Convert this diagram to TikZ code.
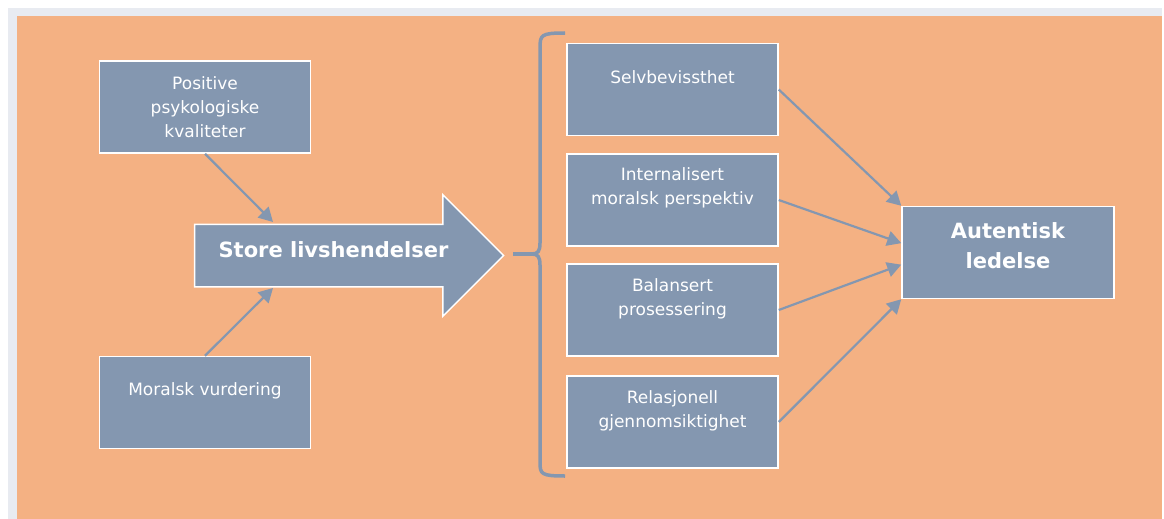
\documentclass[tikz,border=0pt]{standalone}
\usepackage{fontspec}
\setmainfont{DejaVu Sans}
\usepackage{tikz}
\usetikzlibrary{shapes.arrows,arrows.meta,calc}
\definecolor{bgorange}{HTML}{F4B183}
\definecolor{boxgray}{HTML}{8497B0}
\definecolor{frameband}{HTML}{E8EBF1}

\begin{document}
\begin{tikzpicture}[
  x=1pt, y=-1pt,
  box/.style     ={rectangle, draw=white, line width=1.5pt, fill=boxgray, minimum width=211pt, minimum height=92pt, inner sep=0pt},
  txt/.style     ={text=white, font=\fontsize{17}{24}\selectfont, align=center, inner sep=0pt},
  boldtxt/.style ={text=white, font=\fontsize{21}{30}\selectfont\bfseries, align=center, inner sep=0pt},
  bigarrow/.style={single arrow, draw=white, line width=1.5pt, fill=boxgray, inner xsep=0pt, inner ysep=30.5pt,
                   single arrow head extend=29.5pt, minimum height=309pt},
  link/.style    ={-{Triangle[length=14pt,width=15pt]}, draw=boxgray, line width=2.2pt},
  bracket/.style ={draw=boxgray, line width=3.5pt},
]
\useasboundingbox (0,0) rectangle (1164,519);
% frame
\fill[white] (0,0) rectangle (1164,519);
\fill[frameband] (8,8) rectangle (1162,519);
\fill[bgorange] (17,16) rectangle (1162,519);
% left side
\node[box] (pos) at (205,107)   {};
\node[box] (mor) at (205,402.5) {};
\node[txt] (pos-t) at (205,107) {Positive\\psykologiske\\kvaliteter};
\node[txt] (mor-t) at (205,391) {Moralsk vurdering};
% big arrow
\node[bigarrow] (life) at (333.5,255.5) {};
\node[boldtxt] (life-t) at (333.5,250) {Store livshendelser};
\coordinate (pos-in) at (273,222);
\coordinate (mor-in) at (273,288);
\draw[link] (pos.south) -- (pos-in);
\draw[link] (mor.north) -- (mor-in);
% bracket
\draw[bracket] (565,33) .. controls (541,33) and (540,35) .. (540,48) -- (540,243)
  .. controls (540,251) and (538,254) .. (532,254)
  .. controls (538,254) and (540,257) .. (540,265) -- (540,462)
  .. controls (540,474) and (541,476) .. (565,476);
\draw[bracket] (513,254) -- (533,254);
% components
\node[box] (selv)   at (672.5,89.5) {};
\node[box] (intern) at (672.5,200)  {};
\node[box] (bal)    at (672.5,310)  {};
\node[box] (rel)    at (672.5,422)  {};
\node[txt] (selv-t)   at (672.5,77)  {Selvbevissthet};
\node[txt] (intern-t) at (672.5,188) {Internalisert\\moralsk perspektiv};
\node[txt] (bal-t)    at (672.5,299) {Balansert\\prosessering};
\node[txt] (rel-t)    at (672.5,411) {Relasjonell\\gjennomsiktighet};
% outcome
\node[box, minimum width=212pt] (aut) at (1008,252.5) {};
\node[boldtxt] (aut-t) at (1008,246) {Autentisk\\ledelse};
\draw[link] (selv.east)   -- (aut.north west);
\draw[link] (intern.east) -- ($(aut.north west)!0.4!(aut.south west)$);
\draw[link] (bal.east)    -- ($(aut.north west)!0.63!(aut.south west)$);
\draw[link] (rel.east)    -- (aut.south west);
\end{tikzpicture}
\end{document}
